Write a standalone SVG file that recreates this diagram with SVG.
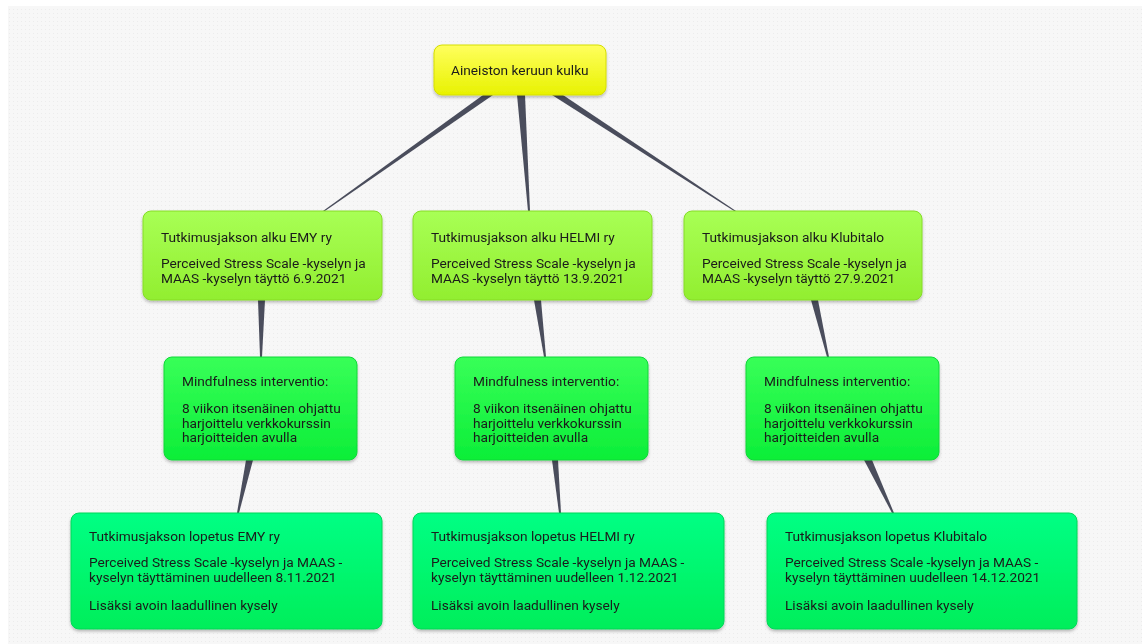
<svg xmlns="http://www.w3.org/2000/svg" width="1142" height="644" viewBox="0 0 1142 644">
<defs>
<pattern id="dots" width="4" height="4" patternUnits="userSpaceOnUse">
<rect width="4" height="4" fill="#f7f7f7"/>
<rect x="1" y="1" width="1" height="1" fill="#ececec"/>
</pattern>
<linearGradient id="gY" x1="0" y1="0" x2="0" y2="1"><stop offset="0" stop-color="#ffff5e"/><stop offset="1" stop-color="#e8f200"/></linearGradient>
<linearGradient id="gL" x1="0" y1="0" x2="0" y2="1"><stop offset="0" stop-color="#a8ff55"/><stop offset="1" stop-color="#92ee30"/></linearGradient>
<linearGradient id="gG" x1="0" y1="0" x2="0" y2="1"><stop offset="0" stop-color="#38ff58"/><stop offset="1" stop-color="#0cee38"/></linearGradient>
<linearGradient id="gT" x1="0" y1="0" x2="0" y2="1"><stop offset="0" stop-color="#00ff84"/><stop offset="1" stop-color="#00ee5a"/></linearGradient>
<filter id="sh" x="-10%" y="-10%" width="120%" height="130%">
<feDropShadow dx="0" dy="2" stdDeviation="1.5" flood-color="#000" flood-opacity="0.25"/>
</filter>
</defs>
<style>
text{font-family:Roboto,"Liberation Sans",sans-serif;font-size:13.7px;fill:#1a1a1a}
.n{filter:url(#sh)}
.c{fill:#4a4d5c}
</style>
<rect x="0" y="0" width="1142" height="644" fill="#ffffff"/>
<rect x="8" y="6" width="1134" height="638" fill="url(#dots)"/>
<g id="connectors">
<polygon class="c" points="483,95 493,95 325,211 323,211"/>
<polygon class="c" points="517,95 525,95 530,211 528,211"/>
<polygon class="c" points="552,95 563,95 736,211 734,211"/>
<polygon class="c" points="258,300 265,300 262,357 260,357"/>
<polygon class="c" points="246,460 253,460 239,513 237,513"/>
<polygon class="c" points="534,300 541,300 546,357 544,357"/>
<polygon class="c" points="552,460 558,460 561,513 559,513"/>
<polygon class="c" points="811,300 818,300 829,357 827,357"/>
<polygon class="c" points="864,460 872,460 894,513 892,513"/>
</g>
<g id="root" class="n">
<rect x="434" y="45" width="172" height="50" rx="8" fill="url(#gY)" stroke="#d6df00" stroke-width="1"/>
<text x="451" y="75">Aineiston keruun kulku</text>
</g>
<g id="start1" class="n">
<rect x="143" y="211" width="239" height="89" rx="8" fill="url(#gL)" stroke="#86dc28" stroke-width="1"/>
<text x="161" y="242">Tutkimusjakson alku EMY ry</text>
<text x="161" y="268">Perceived Stress Scale -kyselyn ja</text>
<text x="161" y="283">MAAS -kyselyn täyttö 6.9.2021</text>
</g>
<g id="start2" class="n">
<rect x="413" y="211" width="239" height="89" rx="8" fill="url(#gL)" stroke="#86dc28" stroke-width="1"/>
<text x="431" y="242">Tutkimusjakson alku HELMI ry</text>
<text x="431" y="268">Perceived Stress Scale -kyselyn ja</text>
<text x="431" y="283">MAAS -kyselyn täyttö 13.9.2021</text>
</g>
<g id="start3" class="n">
<rect x="684" y="211" width="238" height="89" rx="8" fill="url(#gL)" stroke="#86dc28" stroke-width="1"/>
<text x="702" y="242">Tutkimusjakson alku Klubitalo</text>
<text x="702" y="268">Perceived Stress Scale -kyselyn ja</text>
<text x="702" y="283">MAAS -kyselyn täyttö 27.9.2021</text>
</g>
<g id="int1" class="n">
<rect x="164" y="357" width="193" height="103" rx="8" fill="url(#gG)" stroke="#10d838" stroke-width="1"/>
<text x="182" y="386">Mindfulness interventio:</text>
<text x="182" y="413">8 viikon itsenäinen ohjattu</text>
<text x="182" y="428">harjoittelu verkkokurssin</text>
<text x="182" y="442">harjoitteiden avulla</text>
</g>
<g id="int2" class="n">
<rect x="455" y="357" width="193" height="103" rx="8" fill="url(#gG)" stroke="#10d838" stroke-width="1"/>
<text x="473" y="386">Mindfulness interventio:</text>
<text x="473" y="413">8 viikon itsenäinen ohjattu</text>
<text x="473" y="428">harjoittelu verkkokurssin</text>
<text x="473" y="442">harjoitteiden avulla</text>
</g>
<g id="int3" class="n">
<rect x="746" y="357" width="193" height="103" rx="8" fill="url(#gG)" stroke="#10d838" stroke-width="1"/>
<text x="764" y="386">Mindfulness interventio:</text>
<text x="764" y="413">8 viikon itsenäinen ohjattu</text>
<text x="764" y="428">harjoittelu verkkokurssin</text>
<text x="764" y="442">harjoitteiden avulla</text>
</g>
<g id="end1" class="n">
<rect x="71" y="513" width="311" height="116" rx="8" fill="url(#gT)" stroke="#00d858" stroke-width="1"/>
<text x="89" y="541">Tutkimusjakson lopetus EMY ry</text>
<text x="89" y="567">Perceived Stress Scale -kyselyn ja MAAS -</text>
<text x="89" y="582">kyselyn täyttäminen uudelleen 8.11.2021</text>
<text x="89" y="610">Lisäksi avoin laadullinen kysely</text>
</g>
<g id="end2" class="n">
<rect x="413" y="513" width="311" height="116" rx="8" fill="url(#gT)" stroke="#00d858" stroke-width="1"/>
<text x="431" y="541">Tutkimusjakson lopetus HELMI ry</text>
<text x="431" y="567">Perceived Stress Scale -kyselyn ja MAAS -</text>
<text x="431" y="582">kyselyn täyttäminen uudelleen 1.12.2021</text>
<text x="431" y="610">Lisäksi avoin laadullinen kysely</text>
</g>
<g id="end3" class="n">
<rect x="767" y="513" width="310" height="116" rx="8" fill="url(#gT)" stroke="#00d858" stroke-width="1"/>
<text x="785" y="541">Tutkimusjakson lopetus Klubitalo</text>
<text x="785" y="567">Perceived Stress Scale -kyselyn ja MAAS -</text>
<text x="785" y="582">kyselyn täyttäminen uudelleen 14.12.2021</text>
<text x="785" y="610">Lisäksi avoin laadullinen kysely</text>
</g>
</svg>
